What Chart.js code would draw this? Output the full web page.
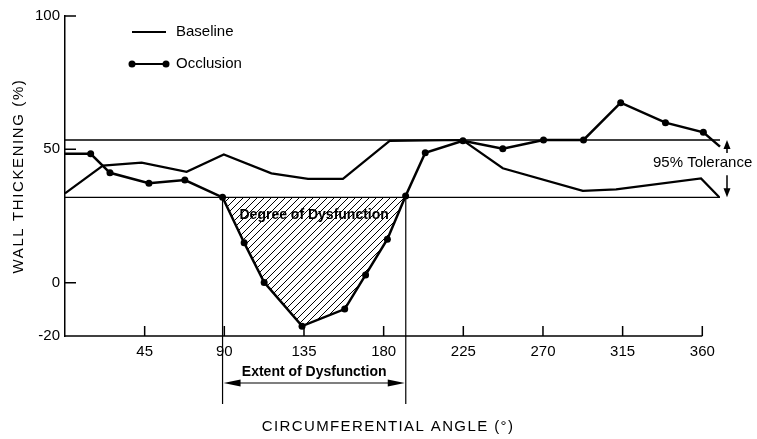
<!DOCTYPE html>
<html>
<head>
<meta charset="utf-8">
<script src="https://cdn.jsdelivr.net/npm/chart.js@4.4.1/dist/chart.umd.min.js"></script>
<style>
  html, body { margin: 0; padding: 0; background: #fff; }
  canvas { display: block; }
</style>
</head>
<body>
<canvas id="chart" width="757" height="439"></canvas>
<script>
// Wall thickening (%) against circumferential angle (deg)
const baselineAngles = [0, 21.4, 43.3, 68.7, 89.7, 116.6, 137.3, 157, 183.4, 224.6, 247.3, 292.5, 311.3, 359.3, 369.6];
const baselineValues = [33.5, 43.9, 45.0, 41.6, 48.1, 41.0, 38.9, 38.9, 53.2, 53.5, 42.9, 34.4, 35.0, 39.1, 32.0];

const occlusionAngles = [0, 14.5, 25.4, 47.4, 67.7, 89, 101.2, 112.5, 133.9, 158, 169.8, 182.1, 192.4, 203.5, 224.8, 247.3, 270.3, 292.9, 313.9, 339.2, 360.6, 370];
const occlusionValues = [48.3, 48.3, 41.2, 37.3, 38.5, 32.0, 15.0, 0.1, -16.3, -9.9, 2.9, 16.3, 32.5, 48.7, 53.2, 50.2, 53.5, 53.5, 67.5, 60.0, 56.4, 51.0];

// 95% tolerance band of the baseline
const toleranceUpper = 53.5;
const toleranceLower = 32.0;
const toleranceRange = [0, 370];

// extent of dysfunction (deg)
const extentRange = [89, 192.5];

const xTickValues = [45, 90, 135, 180, 225, 270, 315, 360];
const yTickValues = [-20, 0, 50, 100];

const FONT = "'Liberation Sans', Arial, sans-serif";

const xy = (xs, ys) => xs.map((x, i) => ({ x: x, y: ys[i] }));
const occlusionPoints = xy(occlusionAngles, occlusionValues);
const hatchPoints = occlusionPoints.filter(p => p.x >= extentRange[0] && p.x <= extentRange[1]);

const canvas = document.getElementById('chart');

// diagonal hatch for the degree of dysfunction
function makeHatch() {
  const size = 7;
  const c = document.createElement('canvas');
  c.width = size;
  c.height = size;
  const g = c.getContext('2d');
  g.strokeStyle = '#000';
  g.lineWidth = 1;
  g.beginPath();
  g.moveTo(0, size); g.lineTo(size, 0);
  g.moveTo(-1, 1); g.lineTo(1, -1);
  g.moveTo(size - 1, size + 1); g.lineTo(size + 1, size - 1);
  g.stroke();
  return canvas.getContext('2d').createPattern(c, 'repeat');
}

function arrowHead(ctx, x, y, dx, dy, len, half) {
  // tip at (x, y), pointing along (dx, dy)
  const bx = x - dx * len, by = y - dy * len;
  ctx.beginPath();
  ctx.moveTo(x, y);
  ctx.lineTo(bx - dy * half, by + dx * half);
  ctx.lineTo(bx + dy * half, by - dx * half);
  ctx.closePath();
  ctx.fill();
}

const annotations = {
  id: 'annotations',
  afterDraw(chart) {
    const { ctx, chartArea: area, scales: { x, y } } = chart;
    ctx.save();
    ctx.strokeStyle = '#000';
    ctx.fillStyle = '#000';

    // x axis line stops at the last tick, the data runs on past it
    const xEnd = x.getPixelForValue(xTickValues[xTickValues.length - 1]);
    ctx.lineWidth = 1.5;
    ctx.beginPath();
    ctx.moveTo(area.left, area.bottom);
    ctx.lineTo(xEnd, area.bottom);
    ctx.stroke();

    // tick marks point inwards
    ctx.beginPath();
    x.ticks.forEach(t => {
      const px = x.getPixelForValue(t.value);
      ctx.moveTo(px, area.bottom);
      ctx.lineTo(px, area.bottom - 10);
    });
    y.ticks.forEach(t => {
      if (t.value === y.min) return;
      const py = y.getPixelForValue(t.value);
      ctx.moveTo(area.left, py);
      ctx.lineTo(area.left + 11, py);
    });
    ctx.stroke();

    // legend
    const lx0 = area.left + 67, lx1 = area.left + 101;
    const ly0 = area.top + 16, ly1 = area.top + 48;
    ctx.lineWidth = 2;
    ctx.beginPath();
    ctx.moveTo(lx0, ly0); ctx.lineTo(lx1, ly0);
    ctx.moveTo(lx0, ly1); ctx.lineTo(lx1, ly1);
    ctx.stroke();
    [lx0, lx1].forEach(px => {
      ctx.beginPath();
      ctx.arc(px, ly1, 3.5, 0, Math.PI * 2);
      ctx.fill();
    });
    ctx.font = '15px ' + FONT;
    ctx.textAlign = 'left';
    ctx.textBaseline = 'middle';
    ctx.fillText('Baseline', lx1 + 10, ly0);
    ctx.fillText('Occlusion', lx1 + 10, ly1);

    // extent of dysfunction
    const ex0 = x.getPixelForValue(extentRange[0]);
    const ex1 = x.getPixelForValue(extentRange[1]);
    const yLow = y.getPixelForValue(toleranceLower);
    const yUp = y.getPixelForValue(toleranceUpper);
    ctx.lineWidth = 1.2;
    ctx.beginPath();
    ctx.moveTo(ex0, yLow); ctx.lineTo(ex0, area.bottom + 68);
    ctx.moveTo(ex1, yLow); ctx.lineTo(ex1, area.bottom + 68);
    const ay = area.bottom + 47;
    ctx.moveTo(ex0 + 10, ay); ctx.lineTo(ex1 - 10, ay);
    ctx.stroke();
    arrowHead(ctx, ex0 + 1, ay, -1, 0, 17, 3.5);
    arrowHead(ctx, ex1 - 1, ay, 1, 0, 17, 3.5);
    ctx.font = 'bold 14px ' + FONT;
    ctx.textAlign = 'center';
    ctx.fillText('Extent of Dysfunction', (ex0 + ex1) / 2, area.bottom + 36);
    ctx.fillText('Degree of Dysfunction', (ex0 + ex1) / 2, yLow + 18);

    // 95% tolerance
    const tx = x.getPixelForValue(toleranceRange[1]) + 7;
    ctx.lineWidth = 1.5;
    ctx.beginPath();
    ctx.moveTo(tx, yUp + 6); ctx.lineTo(tx, yUp + 13);
    ctx.moveTo(tx, yLow - 22); ctx.lineTo(tx, yLow - 6);
    ctx.stroke();
    arrowHead(ctx, tx, yUp, 0, -1, 9, 3.5);
    arrowHead(ctx, tx, yLow, 0, 1, 9, 3.5);
    ctx.font = '15px ' + FONT;
    ctx.textAlign = 'left';
    ctx.fillText('95% Tolerance', tx - 74, yUp + 23);

    // axis titles
    ctx.font = '15px ' + FONT;
    ctx.textAlign = 'center';
    ctx.letterSpacing = '1.4px';
    ctx.fillText('CIRCUMFERENTIAL ANGLE (\u00b0)', area.left + 323, area.bottom + 91);
    ctx.letterSpacing = '1.6px';
    ctx.translate(19, (area.top + area.bottom) / 2);
    ctx.rotate(-Math.PI / 2);
    ctx.fillText('WALL THICKENING (%)', 0, 0);
    ctx.restore();
  }
};

new Chart(canvas, {
  type: 'line',
  data: {
    datasets: [
      {
        label: 'Occlusion',
        data: occlusionPoints,
        borderColor: '#000',
        borderWidth: 2.5,
        pointRadius: occlusionAngles.map((a, i) => (i === 0 || i === occlusionAngles.length - 1) ? 0 : 3.5),
        pointBackgroundColor: '#000',
        pointBorderWidth: 0,
        clip: false
      },
      {
        label: 'Baseline',
        data: xy(baselineAngles, baselineValues),
        borderColor: '#000',
        borderWidth: 2.2,
        pointRadius: 0,
        clip: false
      },
      {
        label: 'Upper tolerance',
        data: toleranceRange.map(a => ({ x: a, y: toleranceUpper })),
        borderColor: '#000',
        borderWidth: 1.3,
        pointRadius: 0,
        clip: false
      },
      {
        label: 'Lower tolerance',
        data: toleranceRange.map(a => ({ x: a, y: toleranceLower })),
        borderColor: '#000',
        borderWidth: 1.3,
        pointRadius: 0,
        clip: false
      },
      {
        label: 'Degree of Dysfunction',
        data: hatchPoints,
        borderWidth: 0,
        pointRadius: 0,
        fill: { value: toleranceLower },
        backgroundColor: makeHatch()
      }
    ]
  },
  options: {
    responsive: false,
    devicePixelRatio: 1,
    animation: false,
    layout: { padding: { left: 0, top: 16, right: 37, bottom: 0 } },
    plugins: {
      legend: { display: false },
      tooltip: { enabled: false }
    },
    scales: {
      x: {
        type: 'linear',
        min: 0,
        max: toleranceRange[1],
        afterBuildTicks: s => { s.ticks = xTickValues.map(v => ({ value: v })); },
        afterFit: s => { s.height = 103; },
        grid: { display: false, drawTicks: false },
        border: { display: false },
        ticks: { color: '#000', padding: 7, maxRotation: 0, font: { family: FONT, size: 15 } }
      },
      y: {
        min: -20,
        max: 100,
        afterBuildTicks: s => { s.ticks = yTickValues.map(v => ({ value: v })); },
        afterFit: s => { s.width = 65; },
        grid: { display: false, drawTicks: false },
        border: { display: true, color: '#000', width: 1.5 },
        ticks: { color: '#000', padding: 5, font: { family: FONT, size: 15 } }
      }
    }
  },
  plugins: [annotations]
});
</script>
</body>
</html>
